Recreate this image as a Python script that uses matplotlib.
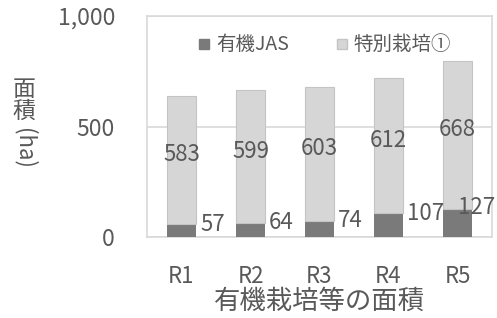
import matplotlib
matplotlib.use("Agg")
import matplotlib.pyplot as plt
from matplotlib.lines import Line2D

plt.rcParams['font.family'] = ['Noto Sans CJK JP', 'DejaVu Sans']

categories = ["R1", "R2", "R3", "R4", "R5"]
jas = [57, 64, 74, 107, 127]
special = [583, 599, 603, 612, 668]
series_names = ["有機JAS", "特別栽培①"]
yticks = [0, 500, 1000]
ytick_labels = ["0", "500", "1,000"]
xlabel = "有機栽培等の面積"

TXT = "#595959"
DARK = "#7a7a7a"
LIGHT = "#d6d6d6"
LIGHT_EDGE = "#c4c4c4"
GRID = "#d9d9d9"

fig = plt.figure(figsize=(4.97, 3.18), dpi=100)
ax = fig.add_axes([147/497, 1-237/318, (492-147)/497, (237-16)/318])

x = list(range(len(categories)))
w = 0.42
ax.bar(x, jas, width=w, color=DARK, zorder=3)
ax.bar(x, special, width=w, bottom=jas, color=LIGHT, edgecolor=LIGHT_EDGE,
       linewidth=0.8, zorder=3)

ax.set_xlim(-0.5, len(categories) - 0.5)
ax.set_ylim(0, 1000)
ax.set_yticks(yticks)
ax.set_yticklabels(ytick_labels)
ax.set_xticks(x)
ax.set_xticklabels(categories)
ax.tick_params(axis='y', length=0, pad=23, labelsize=16.5, labelcolor=TXT)
ax.tick_params(axis='x', length=0, pad=20, labelsize=16, labelcolor=TXT)
ax.yaxis.grid(True, color=GRID, linewidth=1.2, zorder=0)
for s in ax.spines.values():
    s.set_color(GRID)
    s.set_linewidth(1.2)

# data labels
for i in x:
    yc = jas[i] + special[i] / 2
    ax.annotate(str(special[i]), (i, yc), xytext=(0, 4), textcoords='offset points',
                ha='center', va='center', fontsize=16, color=TXT, zorder=5)
    if i < len(x) - 1:
        ax.annotate(str(jas[i]), (i + w / 2, jas[i]), xytext=(3, 0),
                    textcoords='offset points', ha='left', va='center',
                    fontsize=16, color=TXT, zorder=5)
    else:
        ax.annotate(str(jas[i]), (len(x) - 0.5, jas[i]), xytext=(2, 1),
                    textcoords='offset points', ha='right', va='center',
                    fontsize=16, color=TXT, zorder=5)

ax.set_xlabel(xlabel, fontsize=19, color=TXT, labelpad=0)

# legend
handles = [Line2D([], [], marker='s', linestyle='none', markersize=7,
                  markerfacecolor=DARK, markeredgecolor=DARK),
           Line2D([], [], marker='s', linestyle='none', markersize=7,
                  markerfacecolor=LIGHT, markeredgecolor=LIGHT_EDGE)]
leg = ax.legend(handles, series_names, loc='center', bbox_to_anchor=(0.515, 0.869),
                ncol=2, frameon=False, fontsize=14, handlelength=0.6,
                handletextpad=0.3, columnspacing=2.4, labelcolor=TXT)

# vertical y-axis title
fig.text(24/497, 1-89/318, "面", fontsize=16.5, color=TXT, ha='center', va='center')
fig.text(24/497, 1-111/318, "積", fontsize=16.5, color=TXT, ha='center', va='center')
fig.text(24/497, 1-148/318, "(ha)", fontsize=16, color=TXT, ha='center', va='center',
         rotation=-90)

fig.savefig("out.png", dpi=100)
